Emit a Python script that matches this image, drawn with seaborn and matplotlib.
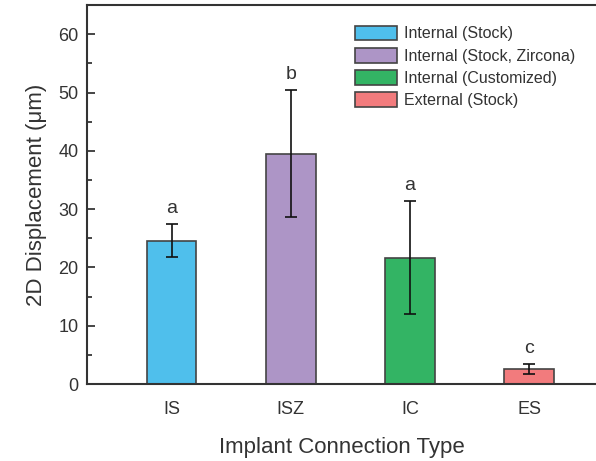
import pandas as pd
import matplotlib
matplotlib.use("Agg")
import matplotlib.pyplot as plt
import matplotlib.patches as mpatches
from matplotlib.ticker import MultipleLocator
import seaborn as sns

# data
categories = ["IS", "ISZ", "IC", "ES"]
means = [24.6, 39.5, 21.7, 2.6]
errors = [2.8, 10.9, 9.7, 0.8]
letters = ["a", "b", "a", "c"]
legend_labels = ["Internal (Stock)", "Internal (Stock, Zircona)",
                 "Internal (Customized)", "External (Stock)"]
colors = ["#4fbfec", "#ad95c6", "#33b464", "#f27b7d"]

sns.set_style("ticks")
plt.rcParams['font.family'] = ['Liberation Sans', 'DejaVu Sans']
text_col = "#333333"

df = pd.DataFrame({"type": categories, "disp": means})

fig = plt.figure(figsize=(5.96, 4.61), dpi=100)
ax = fig.add_axes([0.146, 0.167, 0.854, 0.822])

sns.barplot(data=df, x="type", y="disp", hue="type", palette=colors,
            saturation=1, width=0.416, edgecolor="#444444", linewidth=1.2,
            legend=False, ax=ax)
ax.errorbar(categories, means, yerr=errors, fmt="none", ecolor="#111111",
            elinewidth=1.2, capsize=4, capthick=1.2)

for i, (m, e, l) in enumerate(zip(means, errors, letters)):
    ax.text(i, m + e + 1.2, l, ha="center", va="bottom", fontsize=14,
            color=text_col)

ax.set_xlim(-0.71, 3.56)
ax.set_ylim(0, 65)
ax.yaxis.set_major_locator(MultipleLocator(10))
ax.yaxis.set_minor_locator(MultipleLocator(5))
ax.tick_params(axis="y", which="major", direction="in", length=6, width=1.2,
               labelsize=13, labelcolor=text_col, pad=6)
ax.tick_params(axis="y", which="minor", direction="in", length=3.5, width=1.2)
ax.tick_params(axis="x", length=0, labelsize=13, labelcolor=text_col, pad=12)

ax.set_xlabel("Implant Connection Type", fontsize=16, color=text_col, labelpad=14)
ax.set_ylabel("2D Displacement (μm)", fontsize=16, color=text_col, labelpad=8)

for s in ["left", "bottom", "top"]:
    ax.spines[s].set_linewidth(1.5)
    ax.spines[s].set_color("#333333")
ax.spines["right"].set_visible(False)

handles = [mpatches.Patch(facecolor=c, edgecolor="#444444", linewidth=1.2, label=l)
           for c, l in zip(colors, legend_labels)]
leg = ax.legend(handles=handles, loc="upper left", bbox_to_anchor=(0.527, 0.946),
                frameon=False, fontsize=11.5, handlelength=2.6, handleheight=1.05,
                handletextpad=0.45, labelspacing=0.4, borderpad=0, borderaxespad=0)
for t in leg.get_texts():
    t.set_color(text_col)

fig.savefig("out.png", dpi=100)
